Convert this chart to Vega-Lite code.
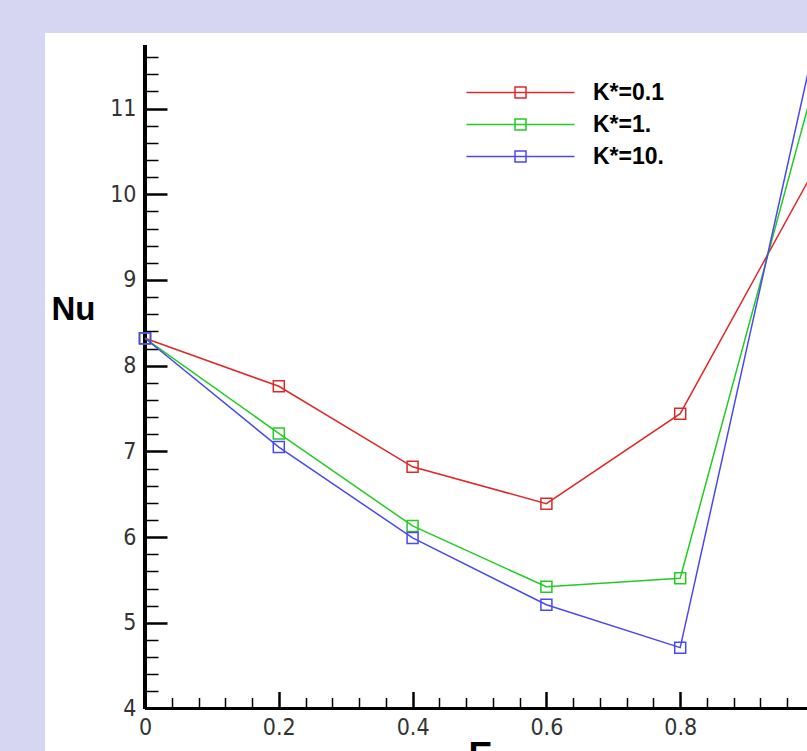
{
  "$schema": "https://vega.github.io/schema/vega-lite/v6.json",
  "width": 762,
  "height": 718,
  "autosize": {"type": "none"},
  "padding": {"left": 45, "top": 33, "right": 0, "bottom": 0},
  "background": "#d6d6f2",
  "config": {"view": {"fill": "white", "stroke": null}},
  "data": {"values": [
    {"E": 0.0, "Nu": 8.32, "K": "K*=0.1"},
    {"E": 0.2, "Nu": 7.76, "K": "K*=0.1"},
    {"E": 0.4, "Nu": 6.82, "K": "K*=0.1"},
    {"E": 0.6, "Nu": 6.39, "K": "K*=0.1"},
    {"E": 0.8, "Nu": 7.44, "K": "K*=0.1"},
    {"E": 1.0, "Nu": 10.28, "K": "K*=0.1"},
    {"E": 0.0, "Nu": 8.32, "K": "K*=1."},
    {"E": 0.2, "Nu": 7.21, "K": "K*=1."},
    {"E": 0.4, "Nu": 6.13, "K": "K*=1."},
    {"E": 0.6, "Nu": 5.42, "K": "K*=1."},
    {"E": 0.8, "Nu": 5.52, "K": "K*=1."},
    {"E": 1.0, "Nu": 11.28, "K": "K*=1."},
    {"E": 0.0, "Nu": 8.32, "K": "K*=10."},
    {"E": 0.2, "Nu": 7.05, "K": "K*=10."},
    {"E": 0.4, "Nu": 5.99, "K": "K*=10."},
    {"E": 0.6, "Nu": 5.21, "K": "K*=10."},
    {"E": 0.8, "Nu": 4.71, "K": "K*=10."},
    {"E": 1.0, "Nu": 11.73, "K": "K*=10."}
  ]},
  "layer": [
    {
      "mark": {"type": "rule", "color": "black", "strokeWidth": 3, "clip": true},
      "encoding": {"x": {"datum": 0, "type": "quantitative"}, "y": {"datum": 4, "type": "quantitative"}, "y2": {"datum": 11.74}}
    },
    {
      "mark": {"type": "rule", "color": "black", "strokeWidth": 3, "clip": true},
      "encoding": {"x": {"datum": 0, "type": "quantitative"}, "x2": {"datum": 1.0}, "y": {"datum": 4, "type": "quantitative"}}
    },
    {
      "mark": {"type": "line", "strokeWidth": 1.5, "clip": true},
      "encoding": {
        "x": {"field": "E", "type": "quantitative"},
        "y": {"field": "Nu", "type": "quantitative"},
        "color": {"field": "K", "type": "nominal"}
      }
    },
    {
      "mark": {"type": "point", "shape": "square", "size": 121, "filled": false, "strokeWidth": 1.5, "opacity": 1, "clip": true},
      "encoding": {
        "x": {"field": "E", "type": "quantitative"},
        "y": {"field": "Nu", "type": "quantitative"},
        "color": {
          "field": "K", "type": "nominal",
          "scale": {"domain": ["K*=0.1", "K*=1.", "K*=10."], "range": ["#e02828", "#22cc22", "#4848f4"]},
          "legend": {
            "orient": "none", "legendX": 464, "legendY": 48, "title": null, "padding": 0,
            "symbolType": "M-5.4,0H5.4M-0.55,-0.55H0.55V0.55H-0.55Z", "symbolSize": 400, "symbolStrokeWidth": 1.5,
            "symbolFillColor": "transparent",
            "labelFont": "Liberation Sans, Arial, sans-serif", "labelFontWeight": "bold", "labelFontSize": 23, "labelColor": "black",
            "labelOffset": 61, "rowPadding": 8
          }
        }
      }
    }
  ],
  "encoding": {
    "x": {
      "field": "E", "type": "quantitative",
      "scale": {"domain": [-0.14948, 0.98953], "nice": false, "zero": false},
      "axis": {
        "orient": "bottom", "offset": -42.5, "domain": false, "grid": false,
        "values": [0,0.04,0.08,0.12,0.16,0.2,0.24,0.28,0.32,0.36,0.4,0.44,0.48,0.52,0.56,0.6,0.64,0.68,0.72,0.76,0.8,0.84,0.88,0.92,0.96],
        "tickColor": "black",
        "tickSize": {"condition": {"test": "abs(datum.value*5-round(datum.value*5))<0.001", "value": -17}, "value": -11},
        "tickWidth": {"condition": {"test": "abs(datum.value*5-round(datum.value*5))<0.001", "value": 2.5}, "value": 1.5},
        "labelExpr": "abs(datum.value*5-round(datum.value*5))<0.001 ? format(datum.value,'~g') : ''",
        "labelPadding": 25, "labelFlush": false, "labelOverlap": false, "labelBound": false,
        "labelFont": "Liberation Sans Narrow, DejaVu Sans Condensed, sans-serif", "labelFontSize": 23, "labelColor": "#333333",
        "title": "E", "titleFont": "Liberation Sans Narrow, sans-serif", "titleFontWeight": "bold", "titleFontSize": 36,
        "titleColor": "black", "titleX": 435, "titleY": 59, "titleBaseline": "alphabetic", "titleAlign": "center"
      }
    },
    "y": {
      "field": "Nu", "type": "quantitative",
      "scale": {"domain": [3.504, 11.882], "nice": false, "zero": false},
      "axis": {
        "orient": "left", "offset": -100, "domain": false, "grid": false,
        "values": [4,4.2,4.4,4.6,4.8,5,5.2,5.4,5.6,5.8,6,6.2,6.4,6.6,6.8,7,7.2,7.4,7.6,7.8,8,8.2,8.4,8.6,8.8,9,9.2,9.4,9.6,9.8,10,10.2,10.4,10.6,10.8,11,11.2,11.4,11.6],
        "tickColor": "black",
        "tickSize": {"condition": {"test": "abs(datum.value-round(datum.value))<0.001", "value": -22}, "value": -13},
        "tickWidth": {"condition": {"test": "abs(datum.value-round(datum.value))<0.001", "value": 2.5}, "value": 1.5},
        "labelExpr": "abs(datum.value-round(datum.value))<0.001 ? format(datum.value,'~g') : ''",
        "labelPadding": 31, "labelFlush": false, "labelOverlap": false, "labelBound": false,
        "labelFont": "Liberation Sans Narrow, DejaVu Sans Condensed, sans-serif", "labelFontSize": 23, "labelColor": "#333333",
        "title": "Nu", "titleFont": "Liberation Sans Narrow, sans-serif", "titleFontWeight": "bold", "titleFontSize": 33,
        "titleColor": "black", "titleAngle": 0, "titleX": -72, "titleY": 286, "titleBaseline": "alphabetic", "titleAlign": "center"
      }
    }
  }
}
